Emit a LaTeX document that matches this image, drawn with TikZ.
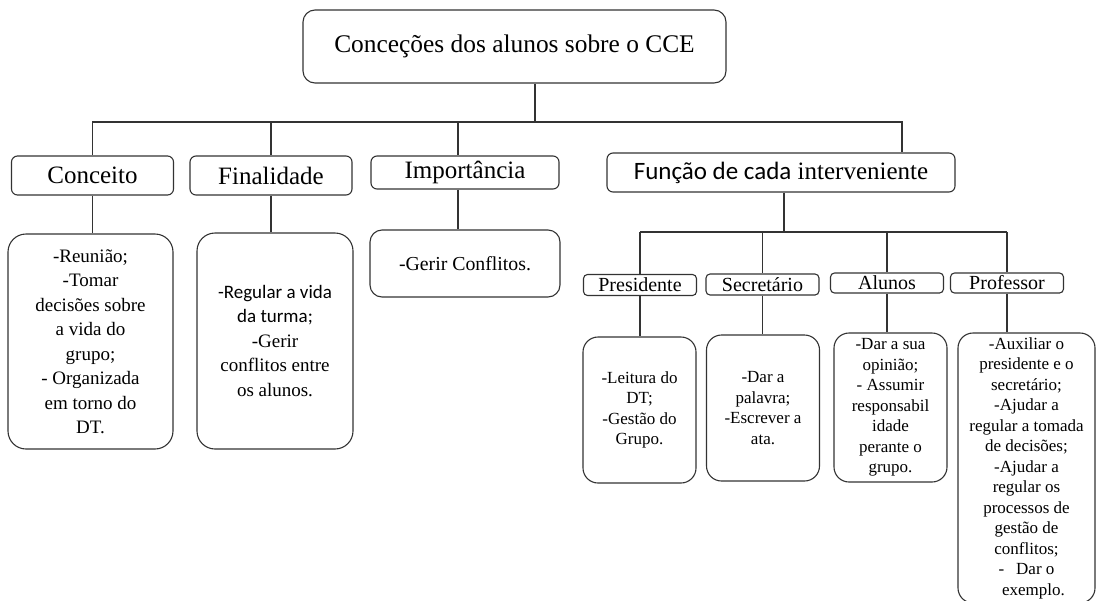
\documentclass[tikz,border=0pt]{standalone}
\usepackage{fontspec}
\setmainfont{Liberation Serif}
\newfontfamily\calibrifont{Carlito}
\usepackage{tikz}
\usetikzlibrary{positioning}
\tikzstyle{mainbox} = [rectangle, rounded corners=12pt, minimum width=423pt, minimum height=73pt, text centered, draw=black!80, line width=1.1pt, font=\fontsize{25.4}{30}\selectfont]
\tikzstyle{catbox} = [rectangle, rounded corners=6pt, minimum height=39pt, inner sep=0pt, text centered, draw=black!80, line width=1.1pt, font=\fontsize{25}{30}\selectfont]
\tikzstyle{rolebox} = [rectangle, rounded corners=4pt, minimum width=113pt, minimum height=21pt, inner sep=0pt, text centered, draw=black!80, line width=1.1pt, font=\fontsize{20}{24}\selectfont]
\tikzstyle{notebox} = [rectangle, rounded corners=18pt, align=center, inner sep=0pt, draw=black!80, line width=1.1pt, font=\fontsize{19}{24.5}\selectfont]
\tikzstyle{rolenote} = [notebox, rounded corners=15pt, minimum width=113pt, font=\fontsize{17}{20.5}\selectfont]
\tikzstyle{link} = [line width=1.1pt, draw=black!80]

\begin{document}
\begin{tikzpicture}[x=1pt, y=-1pt]
        \useasboundingbox (0,0) rectangle (1097,600);
        \clip (0,0) rectangle (1097,600);

        % Title
        \node (cce) [mainbox] at (514.5,46.5) {Conceções dos alunos sobre o CCE};

        % Categories
        \node (conceito) [catbox, minimum width=162pt] at (92.5,175.5) {Conceito};
        \node (finalidade) [catbox, minimum width=162pt] at (271,175.5) {Finalidade};
        \node (importancia) [catbox, minimum width=188pt, minimum height=33pt] at (465,172.5) {Importância};
        \node (funcao) [catbox, minimum width=348pt] at (781,172.5) {{\calibrifont Função de cada} interveniente};

        % Category notes
        \node (conceito-note) [notebox, minimum width=165pt, minimum height=215pt] at (90.5,341.5) {-Reunião;\\-Tomar\\decisões sobre\\a vida do\\grupo;\\- Organizada\\em torno do\\DT.};
        \node (finalidade-note) [notebox, minimum width=156pt, minimum height=216pt] at (275,341) {{\calibrifont -Regular a vida}\\{\calibrifont da turma;}\\-Gerir\\conflitos entre\\os alunos.};
        \node (importancia-note) [notebox, rounded corners=12pt, minimum width=190pt, minimum height=67pt, font=\fontsize{19.8}{24}\selectfont] at (465,263.5) {-Gerir Conflitos.};

        % Roles
        \node (presidente) [rolebox] at (640,285) {Presidente};
        \node (secretario) [rolebox] at (762.5,284.5) {Secretário};
        \node (alunos) [rolebox, minimum height=20pt] at (887,283) {Alunos};
        \node (professor) [rolebox, minimum height=20pt] at (1007,283) {Professor};

        % Role notes
        \node (presidente-note) [rolenote, minimum height=146pt] at (639.5,410) {-Leitura do\\DT;\\-Gestão do\\Grupo.};
        \node (secretario-note) [rolenote, minimum height=146pt] at (763,408) {-Dar a\\palavra;\\-Escrever a\\ata.};
        \node (alunos-note) [rolenote, minimum height=149pt] at (890.5,407.5) {-Dar a sua\\opinião;\\- Assumir\\responsabil\\idade\\perante o\\grupo.};
        \node (professor-note) [rolenote, minimum width=137pt, minimum height=270pt] at (1026.5,468) {-Auxiliar o\\presidente e o\\secretário;\\-Ajudar a\\regular a tomada\\de decisões;\\-Ajudar a\\regular os\\processos de\\gestão de\\conflitos;\\-\hspace*{12pt}Dar o\\\hspace*{14pt}exemplo.};

        % Links from the title
        \coordinate (topjoint) at (535,122);
        \coordinate (importanciajoint) at (458,122);
        \coordinate (funcaojoint) at (902,122);
        \draw [link] (cce.south -| topjoint) -- (topjoint);
        \draw [link] (conceito.north) |- (funcaojoint) -- (funcaojoint |- funcao.north);
        \draw [link] (finalidade.north |- topjoint) -- (finalidade.north);
        \draw [link] (importanciajoint) -- (importanciajoint |- importancia.north);

        % Links to the category notes
        \draw [link] (conceito.south) -- (conceito.south |- conceito-note.north);
        \draw [link] (finalidade.south) -- (finalidade.south |- finalidade-note.north);
        \draw [link] (importanciajoint |- importancia.south) -- (importanciajoint |- importancia-note.north);

        % Links to the roles
        \coordinate (rolejoint) at (784,232);
        \draw [link] (funcao.south -| rolejoint) -- (rolejoint);
        \draw [link] (presidente.north |- rolejoint) -- (professor.north |- rolejoint);
        \foreach \r in {presidente, secretario, alunos, professor} {
            \draw [link] (\r.north |- rolejoint) -- (\r.north);
            \draw [link] (\r.south) -- (\r.south |- \r-note.north);
        }
    \end{tikzpicture}
\end{document}
